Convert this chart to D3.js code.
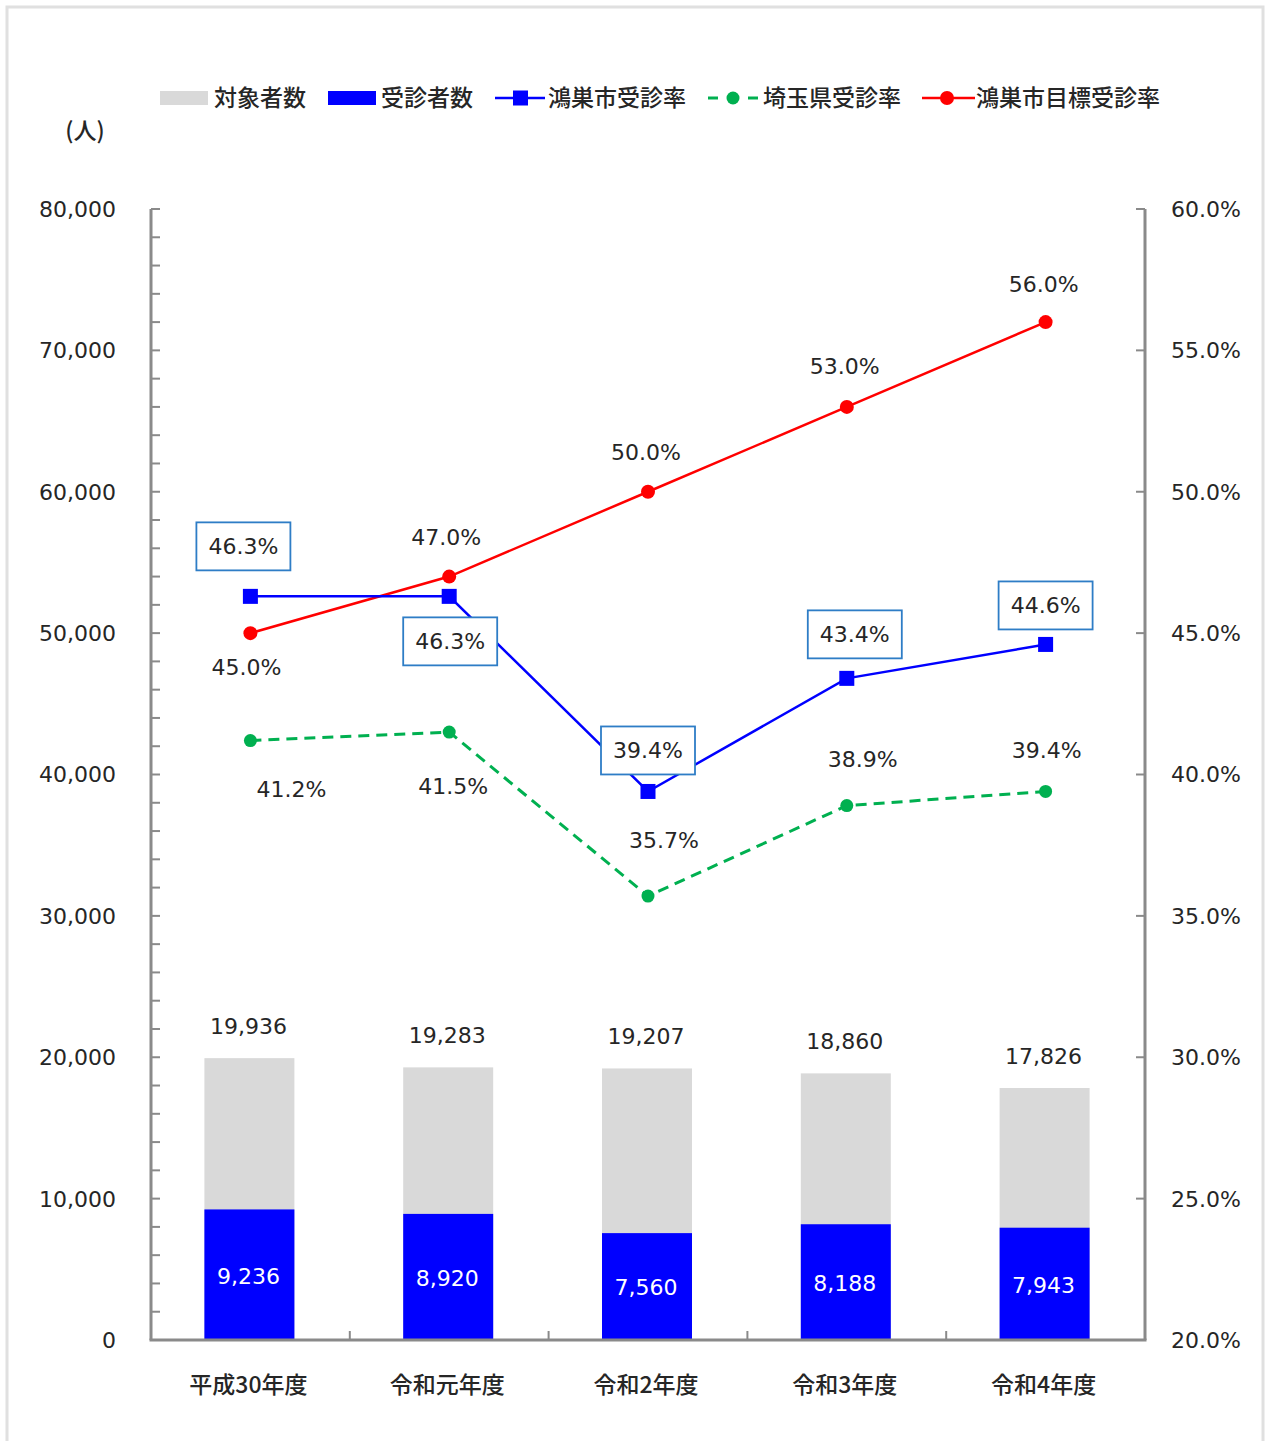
<!DOCTYPE html>
<html><head><meta charset="utf-8">
<script src="https://cdn.jsdelivr.net/npm/d3@7"></script>
<style>
body{margin:0;background:#fff;}
text{font-family:"DejaVu Sans","Noto Sans CJK JP",sans-serif;}
.jp{font-family:"Noto Sans CJK JP",sans-serif;font-weight:500;}
</style></head>
<body><svg id="c" width="1266" height="1441"></svg>
<script>
const categories = ["平成30年度","令和元年度","令和2年度","令和3年度","令和4年度"];
const targetCount = [19936,19283,19207,18860,17826];
const examinedCount = [9236,8920,7560,8188,7943];
const cityRate = [46.3,46.3,39.4,43.4,44.6];
const prefRate = [41.2,41.5,35.7,38.9,39.4];
const goalRate = [45.0,47.0,50.0,53.0,56.0];
const leftTicks = [0,10000,20000,30000,40000,50000,60000,70000,80000];
const rightTicks = [20,25,30,35,40,45,50,55,60];
const seriesNames = ["対象者数","受診者数","鴻巣市受診率","埼玉県受診率","鴻巣市目標受診率"];

// label placement offsets (layout, not data)
const cityLabelOff = [[-7,-50],[1,45],[0,-41],[8,-44],[0,-39]];
const prefLabelOff = [[41,49],[4,54],[16,-56],[16,-47],[1,-41]];
const goalLabelOff = [[-4,34],[-3,-39],[-2,-40],[-2,-41],[-2,-38]];

const svg = d3.select("#c");
const X0=151, X1=1145, Y0=1340, Y1=209;
const txt="#262626";
const axisCol="#8a8a8a";

svg.append("rect").attr("x",7).attr("y",7).attr("width",1256).attr("height",1450)
  .attr("fill","#fff").attr("stroke","#e0e0e0").attr("stroke-width",3);

const x = d3.scaleBand().domain(categories).range([X0,X1]).padding(0);
const yL = d3.scaleLinear().domain([0,80000]).range([Y0,Y1]);
const yR = d3.scaleLinear().domain([20,60]).range([Y0,Y1]);
const barW = 90;
const cx = c => x(c)+x.bandwidth()/2;

// bars
const g = svg.append("g");
g.selectAll(".tb").data(categories).join("rect")
  .attr("x",c=>cx(c)-barW/2-1).attr("width",barW)
  .attr("y",(c,i)=>yL(targetCount[i])).attr("height",(c,i)=>Y0-yL(targetCount[i]))
  .attr("fill","#d9d9d9");
g.selectAll(".eb").data(categories).join("rect")
  .attr("x",c=>cx(c)-barW/2-1).attr("width",barW)
  .attr("y",(c,i)=>yL(examinedCount[i])).attr("height",(c,i)=>Y0-yL(examinedCount[i]))
  .attr("fill","#0000ff");

// axes
const fmt = d3.format(",");
const minor = d3.range(0,80001,2000);
const lAxis = svg.append("g");
lAxis.append("line").attr("x1",X0).attr("x2",X0).attr("y1",Y1).attr("y2",Y0)
  .attr("stroke",axisCol).attr("stroke-width",3);
lAxis.selectAll(".mt").data(minor).join("line")
  .attr("x1",X0).attr("x2",X0+9).attr("y1",d=>yL(d)).attr("y2",d=>yL(d))
  .attr("stroke",axisCol).attr("stroke-width",2);
lAxis.selectAll(".lt").data(leftTicks).join("text")
  .attr("x",116).attr("y",d=>yL(d)).attr("dy","0.36em").attr("text-anchor","end")
  .attr("font-size",22).attr("fill",txt).text(d=>fmt(d));

const rAxis = svg.append("g");
rAxis.append("line").attr("x1",X1).attr("x2",X1).attr("y1",Y1).attr("y2",Y0)
  .attr("stroke",axisCol).attr("stroke-width",3);
rAxis.selectAll(".rt").data(rightTicks).join("line")
  .attr("x1",X1-9).attr("x2",X1).attr("y1",d=>yR(d)).attr("y2",d=>yR(d))
  .attr("stroke",axisCol).attr("stroke-width",2);
rAxis.selectAll(".rl").data(rightTicks).join("text")
  .attr("x",1171).attr("y",d=>yR(d)).attr("dy","0.36em")
  .attr("font-size",22).attr("fill",txt).text(d=>d.toFixed(1)+"%");

const xAxis = svg.append("g");
xAxis.append("line").attr("x1",X0-1.5).attr("x2",X1+1.5).attr("y1",Y0).attr("y2",Y0)
  .attr("stroke",axisCol).attr("stroke-width",3);
const bounds = categories.map(c=>x(c)).concat([X1]);
xAxis.selectAll(".xt").data(bounds).join("line")
  .attr("x1",d=>d).attr("x2",d=>d).attr("y1",Y0).attr("y2",Y0-9)
  .attr("stroke",axisCol).attr("stroke-width",2);
xAxis.selectAll(".xl").data(categories).join("text").attr("class","jp")
  .attr("x",c=>cx(c)-2).attr("y",1385).attr("dy","0.36em").attr("text-anchor","middle")
  .attr("font-size",23).attr("fill",txt).text(c=>c);

// bar labels
svg.selectAll(".tl").data(categories).join("text")
  .attr("x",c=>cx(c)-2).attr("y",(c,i)=>yL(targetCount[i])-32).attr("dy","0.36em")
  .attr("text-anchor","middle").attr("font-size",22).attr("fill",txt)
  .text((c,i)=>fmt(targetCount[i]));
svg.selectAll(".el").data(categories).join("text")
  .attr("x",c=>cx(c)-2).attr("y",(c,i)=>(yL(examinedCount[i])+Y0)/2+1).attr("dy","0.36em")
  .attr("text-anchor","middle").attr("font-size",22).attr("fill","#fff")
  .text((c,i)=>fmt(examinedCount[i]));

// lines
const lineGen = arr => d3.line().x((d,i)=>cx(categories[i])).y(d=>yR(d))(arr);
svg.append("path").attr("d",lineGen(prefRate)).attr("fill","none")
  .attr("stroke","#00b050").attr("stroke-width",3).attr("stroke-dasharray","11,7");
svg.append("path").attr("d",lineGen(goalRate)).attr("fill","none")
  .attr("stroke","#ff0000").attr("stroke-width",2.5);
svg.append("path").attr("d",lineGen(cityRate)).attr("fill","none")
  .attr("stroke","#0000ff").attr("stroke-width",2.5);

svg.selectAll(".pm").data(prefRate).join("circle")
  .attr("cx",(d,i)=>cx(categories[i])).attr("cy",d=>yR(d)).attr("r",6.5).attr("fill","#00b050");
svg.selectAll(".gm").data(goalRate).join("circle")
  .attr("cx",(d,i)=>cx(categories[i])).attr("cy",d=>yR(d)).attr("r",7).attr("fill","#ff0000");
svg.selectAll(".cm").data(cityRate).join("rect")
  .attr("x",(d,i)=>cx(categories[i])-7.5).attr("y",d=>yR(d)-7.5).attr("width",15).attr("height",15)
  .attr("fill","#0000ff");

// rate labels
function rateLabels(arr, off, boxed){
  const gg = svg.append("g");
  arr.forEach((d,i)=>{
    const px = cx(categories[i])+off[i][0], py = yR(d)+off[i][1];
    if(boxed){
      gg.append("rect").attr("x",px-47).attr("y",py-24).attr("width",94).attr("height",48)
        .attr("fill","#fff").attr("stroke","#2e7dc6").attr("stroke-width",1.8);
    }
    gg.append("text").attr("x",px).attr("y",py).attr("dy","0.36em").attr("text-anchor","middle")
      .attr("font-size",22).attr("fill",txt).text(d.toFixed(1)+"%");
  });
}
rateLabels(goalRate, goalLabelOff, false);
rateLabels(prefRate, prefLabelOff, false);
rateLabels(cityRate, cityLabelOff, true);

// unit
svg.append("text").attr("class","jp").attr("x",85).attr("y",131).attr("dy","0.36em")
  .attr("text-anchor","middle").attr("font-size",23).attr("fill",txt).text("(人)");

// legend
const ly = 98;
const leg = svg.append("g");
const legX = [160,328,495,708,922];
leg.append("rect").attr("x",legX[0]).attr("y",ly-7).attr("width",48).attr("height",14).attr("fill","#d9d9d9");
leg.append("rect").attr("x",legX[1]).attr("y",ly-7).attr("width",48).attr("height",14).attr("fill","#0000ff");
leg.append("line").attr("x1",legX[2]).attr("x2",legX[2]+50).attr("y1",ly).attr("y2",ly).attr("stroke","#0000ff").attr("stroke-width",2.5);
leg.append("rect").attr("x",legX[2]+18).attr("y",ly-7.5).attr("width",15).attr("height",15).attr("fill","#0000ff");
leg.append("line").attr("x1",legX[3]).attr("x2",legX[3]+10).attr("y1",ly).attr("y2",ly).attr("stroke","#00b050").attr("stroke-width",3);
leg.append("line").attr("x1",legX[3]+40).attr("x2",legX[3]+50).attr("y1",ly).attr("y2",ly).attr("stroke","#00b050").attr("stroke-width",3);
leg.append("circle").attr("cx",legX[3]+25).attr("cy",ly).attr("r",6.5).attr("fill","#00b050");
leg.append("line").attr("x1",legX[4]).attr("x2",legX[4]+53).attr("y1",ly).attr("y2",ly).attr("stroke","#ff0000").attr("stroke-width",2.5);
leg.append("circle").attr("cx",legX[4]+25).attr("cy",ly).attr("r",7).attr("fill","#ff0000");
const legTX = [214,381,548,763,976];
seriesNames.forEach((n,i)=>{
  leg.append("text").attr("class","jp").attr("x",legTX[i]).attr("y",ly).attr("dy","0.36em")
    .attr("font-size",23).attr("fill",txt).text(n);
});
</script></body></html>
